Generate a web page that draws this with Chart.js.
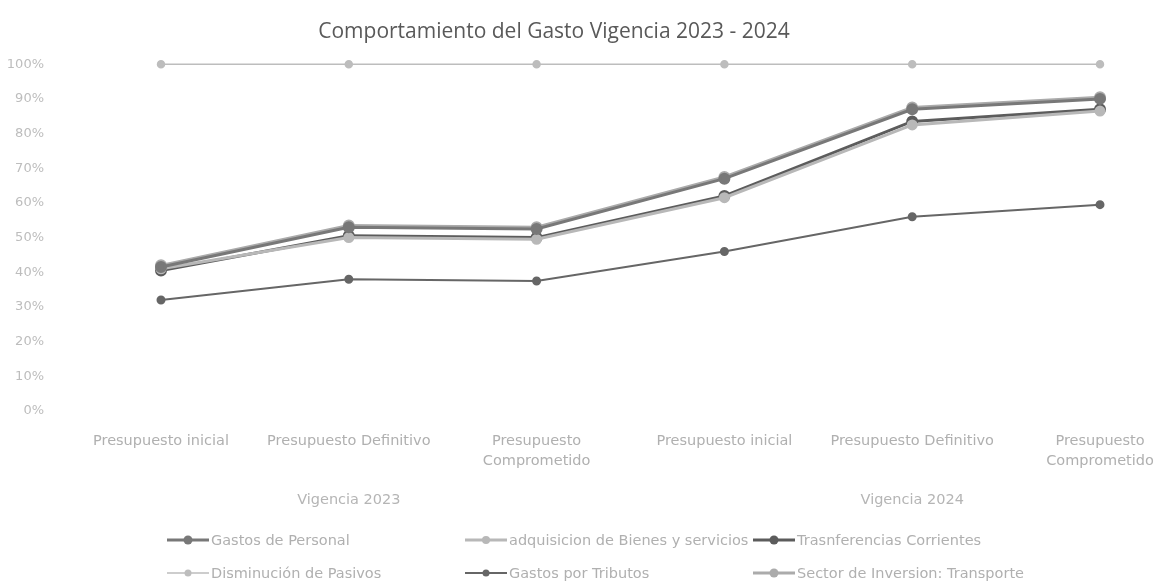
<!DOCTYPE html>
<html>
<head>
<meta charset="utf-8">
<script src="https://cdn.jsdelivr.net/npm/chart.js@4"></script>
<style>
  body { margin: 0; background: #fff; }
  #wrap { position: relative; width: 1158px; height: 584px; }
  #legend { position: absolute; left: 0; top: 0; font: 14.5px 'DejaVu Sans', sans-serif; color: #b0b0b0; }
  .item { position: absolute; display: flex; align-items: center; height: 20px; white-space: nowrap; }
  .item canvas { margin-right: 1px; }
</style>
</head>
<body>
<div id="wrap">
  <canvas id="gasto" width="1158" height="584"></canvas>
  <div id="legend"></div>
</div>
<script>
const categories = [
  'Presupuesto inicial', 'Presupuesto Definitivo', ['Presupuesto', 'Comprometido'],
  'Presupuesto inicial', 'Presupuesto Definitivo', ['Presupuesto', 'Comprometido']
];
const vigencias = ['', 'Vigencia 2023', '', '', 'Vigencia 2024', ''];

// % de ejecución por rubro
const gastosPersonal   = [41.5, 53, 52.5, 67, 87, 90];
const adquisicion      = [41, 50, 49.5, 61.5, 82.5, 86.5];
const transferencias   = [40.5, 50.5, 50, 62, 83.5, 87];
const disminucion      = [100, 100, 100, 100, 100, 100];
const tributos         = [32, 38, 37.5, 46, 56, 59.5];
const inversion        = [42, 53.5, 53, 67.5, 87.5, 90.5];

function serie(label, data, color, width, radius) {
  return {
    label: label,
    data: data,
    borderColor: color,
    backgroundColor: color,
    pointBackgroundColor: color,
    pointBorderColor: color,
    borderWidth: width,
    pointRadius: radius,
    tension: 0,
    clip: 6
  };
}

const tickFont = { family: "'DejaVu Sans', sans-serif", size: 14.5, lineHeight: 1.4 };

const chart = new Chart(document.getElementById('gasto'), {
  type: 'line',
  data: {
    labels: categories,
    datasets: [
      serie('Gastos de Personal', gastosPersonal, '#787878', 3, 4.5),
      serie('adquisicion de Bienes y servicios', adquisicion, '#b8b8b8', 3, 4),
      serie('Trasnferencias Corrientes', transferencias, '#5c5c5c', 3, 4.5),
      serie('Disminución de Pasivos', disminucion, '#bdbdbd', 1.5, 3.5),
      serie('Gastos por Tributos', tributos, '#666666', 2, 3.5),
      serie('Sector de Inversion: Transporte', inversion, '#ababab', 3, 4.5)
    ]
  },
  options: {
    responsive: false,
    animation: false,
    layout: { padding: { left: 8, right: 58, top: 0, bottom: 77 } },
    plugins: {
      legend: { display: false },
      tooltip: { enabled: false },
      title: {
        display: true,
        text: 'Comportamiento del Gasto Vigencia 2023 - 2024',
        color: '#595959',
        font: { family: "'Open Sans', sans-serif", size: 21, weight: 'normal' },
        padding: { top: 19, bottom: 20 }
      }
    },
    scales: {
      y: {
        min: 0,
        max: 100,
        grid: { display: false },
        border: { display: false },
        ticks: {
          stepSize: 10,
          padding: 109,
          color: '#bdbdbd',
          font: { family: "'DejaVu Sans', sans-serif", size: 13 },
          callback: v => v + '%'
        },
        afterFit: s => { s.width = 153; s.paddingTop = 0; s.paddingBottom = 0; }
      },
      x: {
        offset: false,
        grid: { display: false },
        border: { display: false },
        ticks: {
          autoSkip: false,
          maxRotation: 0,
          padding: 12,
          color: '#b0b0b0',
          font: tickFont
        },
        afterFit: s => { s.height = 66; s.paddingLeft = 0; s.paddingRight = 0; }
      },
      x2: {
        type: 'category',
        labels: vigencias,
        position: 'bottom',
        offset: false,
        grid: { display: false },
        border: { display: false },
        ticks: {
          autoSkip: false,
          maxRotation: 0,
          padding: 5,
          color: '#b5b5b5',
          font: tickFont
        },
        afterFit: s => { s.height = 30; s.paddingLeft = 0; s.paddingRight = 0; }
      }
    }
  }
});

// leyenda en tres columnas debajo del gráfico
const legendCols = [166, 464, 752];
const legendRows = [540, 573];
const legendBox = document.getElementById('legend');
chart.data.datasets.forEach((ds, i) => {
  const item = document.createElement('div');
  item.className = 'item';
  item.style.left = legendCols[i % 3] + 'px';
  item.style.top = (legendRows[Math.floor(i / 3)] - 10) + 'px';
  const mk = document.createElement('canvas');
  mk.width = 44; mk.height = 14;
  const c = mk.getContext('2d');
  c.strokeStyle = ds.borderColor;
  c.lineWidth = ds.borderWidth;
  c.beginPath(); c.moveTo(1, 7); c.lineTo(43, 7); c.stroke();
  c.fillStyle = ds.borderColor;
  c.beginPath(); c.arc(22, 7, ds.pointRadius, 0, Math.PI * 2); c.fill();
  const txt = document.createElement('span');
  txt.textContent = ds.label;
  item.appendChild(mk);
  item.appendChild(txt);
  legendBox.appendChild(item);
});
</script>
</body>
</html>
